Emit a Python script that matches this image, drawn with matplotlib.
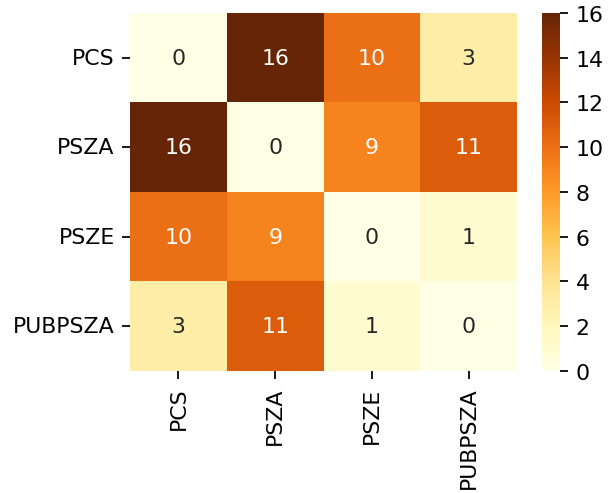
import numpy as np
import matplotlib
matplotlib.use("Agg")
import matplotlib.pyplot as plt
import seaborn as sns

labels = ["PCS", "PSZA", "PSZE", "PUBPSZA"]
counts = [
    [0, 16, 10, 3],
    [16, 0, 9, 11],
    [10, 9, 0, 1],
    [3, 11, 1, 0],
]
cbar_ticks = [0, 2, 4, 6, 8, 10, 12, 14, 16]

# render at higher dpi so ticks / fonts scale like the original
DPI = 158
fig = plt.figure(figsize=(609 / DPI, 494 / DPI), dpi=DPI)
ax = fig.add_axes([0.2135, 0.247, 0.6355, 0.725])
cax = fig.add_axes([0.89, 0.247, 0.0296, 0.725])

sns.heatmap(np.array(counts), annot=True, cmap="YlOrBr", vmin=0, vmax=16,
            xticklabels=labels, yticklabels=labels, ax=ax, cbar_ax=cax,
            cbar_kws={"ticks": cbar_ticks})
ax.set_yticklabels(labels, rotation=0)
ax.set_xticklabels(labels, rotation=90)

fig.savefig("out.png", dpi=DPI)
